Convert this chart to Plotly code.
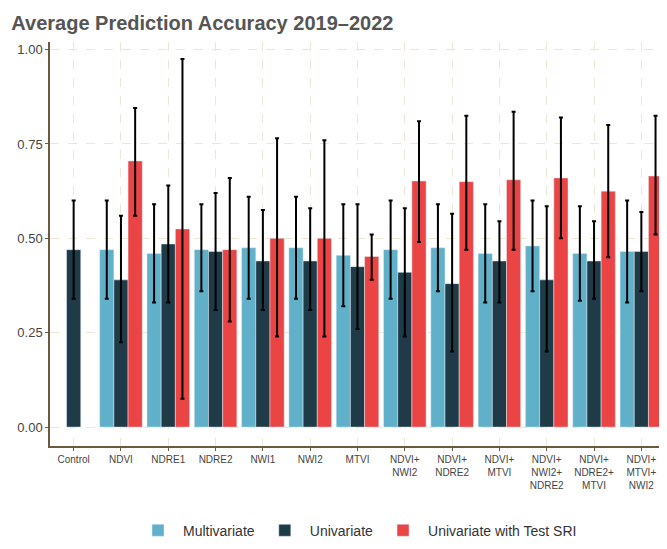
import plotly.graph_objects as go

categories = ["Control", "NDVI", "NDRE1", "NDRE2", "NWI1", "NWI2", "MTVI",
              "NDVI+<br>NWI2", "NDVI+<br>NDRE2", "NDVI+<br>MTVI",
              "NDVI+<br>NWI2+<br>NDRE2", "NDVI+<br>NDRE2+<br>MTVI", "NDVI+<br>MTVI+<br>NWI2"]

multi = [None, 0.47, 0.46, 0.47, 0.475, 0.475, 0.455, 0.47, 0.475, 0.46, 0.48, 0.46, 0.465]
multi_lo = [None, 0.34, 0.33, 0.36, 0.34, 0.34, 0.32, 0.34, 0.36, 0.33, 0.36, 0.335, 0.33]
multi_hi = [None, 0.60, 0.59, 0.59, 0.61, 0.61, 0.59, 0.60, 0.59, 0.59, 0.60, 0.585, 0.60]

uni = [0.47, 0.39, 0.485, 0.465, 0.44, 0.44, 0.425, 0.41, 0.38, 0.44, 0.39, 0.44, 0.465]
uni_lo = [0.34, 0.225, 0.33, 0.31, 0.31, 0.31, 0.26, 0.24, 0.20, 0.33, 0.20, 0.34, 0.36]
uni_hi = [0.60, 0.56, 0.64, 0.62, 0.575, 0.58, 0.59, 0.58, 0.565, 0.545, 0.585, 0.545, 0.57]

sri = [None, 0.705, 0.525, 0.47, 0.50, 0.50, 0.452, 0.652, 0.65, 0.655, 0.66, 0.625, 0.665]
sri_lo = [None, 0.56, 0.075, 0.28, 0.24, 0.24, 0.39, 0.49, 0.47, 0.47, 0.50, 0.45, 0.51]
sri_hi = [None, 0.845, 0.975, 0.66, 0.765, 0.76, 0.51, 0.81, 0.825, 0.835, 0.82, 0.80, 0.825]


def errs(vals, lo, hi):
    plus = [None if v is None else h - v for v, h in zip(vals, hi)]
    minus = [None if v is None else v - l for v, l in zip(vals, lo)]
    return dict(type="data", array=plus, arrayminus=minus, color="black",
                thickness=2, width=2)


fig = go.Figure()
for name, vals, lo, hi, col in [
    ("Multivariate", multi, multi_lo, multi_hi, "#5fb0c8"),
    ("Univariate", uni, uni_lo, uni_hi, "#1e3b47"),
    ("Univariate with Test SRI", sri, sri_lo, sri_hi, "#ea4444"),
]:
    fig.add_trace(go.Bar(x=categories, y=vals, name=name, marker_color=col,
                         error_y=errs(vals, lo, hi)))

fig.update_layout(
    width=667, height=549,
    barmode="group", bargap=0.1, bargroupgap=0,
    plot_bgcolor="white", paper_bgcolor="white",
    font=dict(family="Liberation Sans, Arial", color="#444"),
    title=dict(text="<b>Average Prediction Accuracy 2019\u20132022</b>",
               x=0.005, y=0.985, font=dict(size=20, color="#555")),
    margin=dict(l=42, r=10, t=34, b=82),
    legend=dict(orientation="h", x=0.5, xanchor="center", y=-0.17,
                font=dict(size=14, color="#333"), itemwidth=40),
)
fig.update_xaxes(showline=True, linecolor="#6b5a3e", linewidth=1.5,
                 showgrid=True, gridcolor="#ece6d6", griddash="dash",
                 tickfont=dict(size=10), ticks="outside", ticklen=3,
                 tickcolor="#6b5a3e")
fig.update_yaxes(range=[-0.05, 1.02], tickvals=[0, 0.25, 0.5, 0.75, 1.0],
                 tickformat=".2f", showline=True, linecolor="#6b5a3e",
                 linewidth=1.5, showgrid=True, gridcolor="#ece6d6",
                 griddash="dash", zeroline=False, tickfont=dict(size=13),
                 ticks="outside", ticklen=3, tickcolor="#6b5a3e")

fig.write_html("out.html")
